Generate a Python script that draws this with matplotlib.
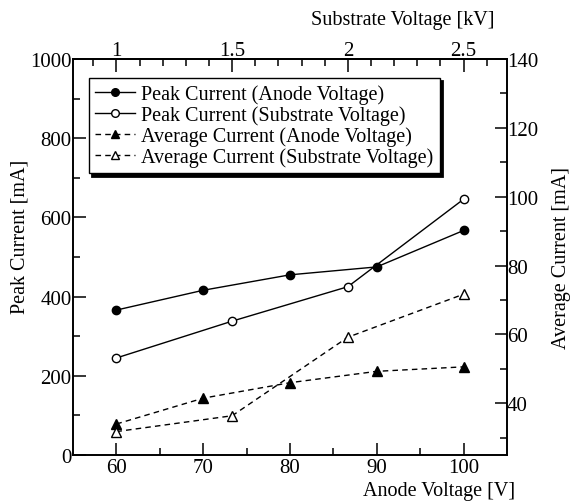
import numpy as np
import matplotlib
matplotlib.use('Agg')
import matplotlib.pyplot as plt
from matplotlib.ticker import FixedLocator, FuncFormatter

plt.rcParams['font.family'] = ['Liberation Serif', 'DejaVu Serif']

# anode voltage sweep
anode_v = [60, 70, 80, 90, 100]
peak_anode = [366, 416, 455, 475, 567]
avg_anode = [34, 41.5, 46, 49.3, 50.6]

# substrate voltage sweep
substrate_kv = [1.0, 1.5, 2.0, 2.5]
peak_sub = [245, 338, 425, 646]
avg_sub = [31.8, 36.4, 59.2, 71.7]

# top axis: 1 kV sits on 60 V, 2.5 kV on 100 V
def kv_to_v(kv):
    return 60 + (np.asarray(kv) - 1.0) * 40 / 1.5

def v_to_kv(v):
    return 1.0 + (np.asarray(v) - 60) * 1.5 / 40

fig = plt.figure(figsize=(5.7, 5.02), dpi=100)
ax = fig.add_axes([73/570, 46/502, 434/570, 396/502])
ax2 = ax.twinx()

l1, = ax.plot(anode_v, peak_anode, '-', color='k', lw=1, marker='o', ms=6,
              mfc='k', mec='k', label='Peak Current (Anode Voltage)')
l2, = ax.plot(kv_to_v(substrate_kv), peak_sub, '-', color='k', lw=1, marker='o', ms=6,
              mfc='white', mec='k', mew=1, label='Peak Current (Substrate Voltage)')
l3, = ax2.plot(anode_v, avg_anode, '--', color='k', lw=1, dashes=(4, 3), marker='^', ms=7,
               mfc='k', mec='k', label='Average Current (Anode Voltage)')
l4, = ax2.plot(kv_to_v(substrate_kv), avg_sub, '--', color='k', lw=1, dashes=(4, 3), marker='^', ms=7,
               mfc='white', mec='k', mew=1, label='Average Current (Substrate Voltage)')

ax.set_xlim(55, 105)
ax.set_ylim(0, 1000)
ax2.set_ylim(25, 140)

ax.xaxis.set_major_locator(FixedLocator([60, 70, 80, 90, 100]))
ax.xaxis.set_minor_locator(FixedLocator([65, 75, 85, 95]))
ax.yaxis.set_major_locator(FixedLocator(np.arange(0, 1001, 200)))
ax.yaxis.set_minor_locator(FixedLocator(np.arange(100, 1000, 200)))
ax2.yaxis.set_major_locator(FixedLocator(np.arange(40, 141, 20)))
ax2.yaxis.set_minor_locator(FixedLocator(np.arange(30, 140, 20)))

top = ax.secondary_xaxis('top', functions=(v_to_kv, kv_to_v))
top.xaxis.set_major_locator(FixedLocator([1, 1.5, 2, 2.5]))
top.xaxis.set_minor_locator(FixedLocator([0.9, 1.1, 1.2, 1.3, 1.4, 1.6, 1.7, 1.8, 1.9,
                                          2.1, 2.2, 2.3, 2.4, 2.6]))
top.xaxis.set_major_formatter(FuncFormatter(lambda x, p: '%g' % x))

for a in (ax, ax2, top):
    a.tick_params(which='major', direction='in', length=9, width=1.1, labelsize=15, pad=2)
    a.tick_params(which='minor', direction='in', length=5, width=1.1)
ax.tick_params(axis='y', pad=1)
ax2.tick_params(axis='y', pad=0)
top.tick_params(axis='x', pad=-1)
ax.tick_params(top=False, right=False)
for a in (ax, ax2, top):
    for s in a.spines.values():
        s.set_linewidth(1.2)

ax.set_ylabel('Peak Current [mA]', fontsize=14.5)
ax.yaxis.set_label_coords(-0.101, 0.553)
ax2.set_ylabel('Average Current [mA]', fontsize=14.5)
ax2.yaxis.set_label_coords(1.103, 0.5)
ax.set_xlabel('Anode Voltage [V]', fontsize=14.5)
ax.xaxis.set_label_coords(0.843, -0.066)
ax.text(0.759, 1.101, 'Substrate Voltage [kV]', fontsize=14.5,
        ha='center', va='center', transform=ax.transAxes)

leg = ax2.legend(handles=[l1, l2, l3, l4], loc='upper left',
                 bbox_to_anchor=(16/434, 1 - 19/396), borderaxespad=0,
                 fontsize=14.5, handlelength=2.0, handletextpad=0.3,
                 labelspacing=0.07, borderpad=0.3, fancybox=False,
                 shadow={'color': 'black', 'alpha': 1, 'lw': 2},
                 framealpha=1, edgecolor='black')
leg.get_frame().set_linewidth(1.0)
for h in leg.legend_handles:
    h.set_markersize(5.5)

fig.savefig('out.png', dpi=100)
